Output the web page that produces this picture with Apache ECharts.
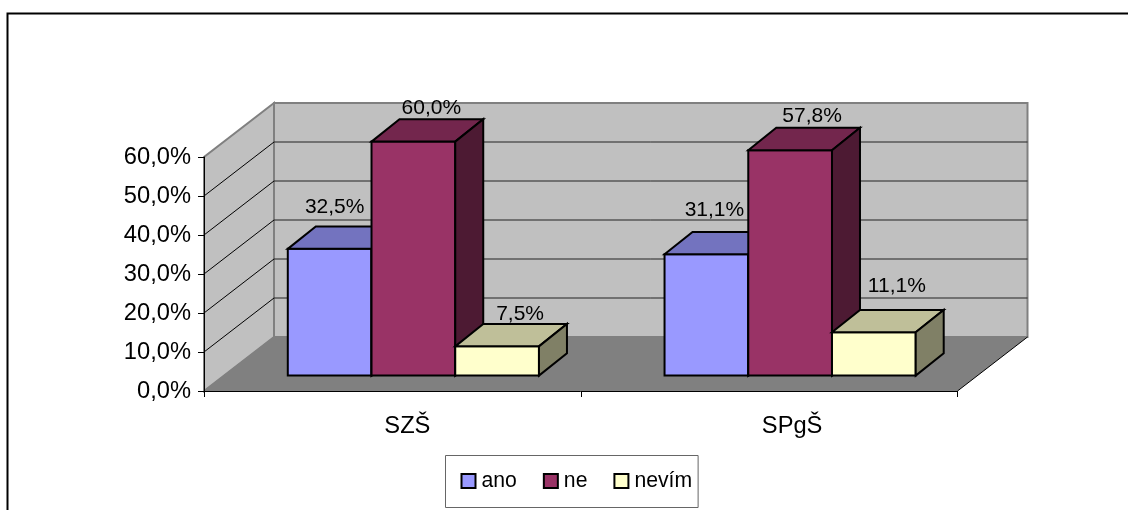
<!DOCTYPE html>
<html><head><meta charset="utf-8">
<style>html,body{margin:0;padding:0;background:#fff}#c{width:1128px;height:510px}</style>
<script src="https://cdn.jsdelivr.net/npm/echarts@6/dist/echarts.min.js"></script>
</head><body><div id="c"></div>
<script>
var categories = ['SZŠ', 'SPgŠ'];
var ano = [32.5, 31.1];
var ne = [60.0, 57.8];
var nevim = [7.5, 11.1];
var yTicks = [0, 10, 20, 30, 40, 50, 60];

var FONT = '"Liberation Sans", Arial, sans-serif';
var AXIS_FS = 23.7, LABEL_FS = 21, LEGEND_FS = 21.2;
var DX = 70, DY = 54;
var FRONT_X = 0.30, FRONT_Y = 0.285, BACK = 0.70;
var seriesStyle = [
  {name:'ano', data:ano, front:'#9999ff', top:'#7373bf', side:'#4d4d80', slot:0, nudge:[[5,-41.5],[8,-44.5]]},
  {name:'ne', data:ne, front:'#993366', top:'#73264d', side:'#4d1a33', slot:1, nudge:[[18,-33.5],[22,-34]]},
  {name:'nevím', data:nevim, front:'#ffffcc', top:'#bfbf99', side:'#808066', slot:2, nudge:[[23,-32],[23,-46]]}
];
function poly(pts, fill, lw){
  return {type:'polygon', shape:{points:pts}, style:{fill:fill, stroke:'#000', lineWidth:lw===undefined?2:lw, lineJoin:'miter'}};
}
function line(a,b,col,w){
  return {type:'line', shape:{x1:a[0],y1:a[1],x2:b[0],y2:b[1]}, style:{stroke:col,lineWidth:w}};
}
function renderWalls(params, api){
  var band = api.size([1,0])[0];
  var first = api.coord([0,0]);
  var x0 = first[0]-band/2, x1 = x0+band*categories.length, y0 = first[1];
  var yt = api.coord([0,60])[1];
  var ch = [];
  ch.push({type:'polygon', shape:{points:[[x0,y0],[x0+DX,y0-DY],[x1+DX,y0-DY],[x1,y0]]}, style:{fill:'#808080'}});
  ch.push({type:'polygon', shape:{points:[[x0,y0],[x0,yt],[x0+DX,yt-DY],[x0+DX,y0-DY]]}, style:{fill:'#c0c0c0',stroke:'#808080',lineWidth:2}});
  ch.push({type:'polygon', shape:{points:[[x0+DX,y0-DY],[x0+DX,yt-DY],[x1+DX,yt-DY],[x1+DX,y0-DY]]}, style:{fill:'#c0c0c0',stroke:'#808080',lineWidth:2}});
  yTicks.forEach(function(t){
    if(t===0||t===60) return;
    var y = api.coord([0,t])[1];
    ch.push(line([x0,y],[x0+DX,y-DY],'#000',1));
    ch.push(line([x0+DX,y-DY],[x1+DX,y-DY],'#222',1));
  });
  ch.push(line([x0,y0],[x0+DX,y0-DY],'#808080',1));
  ch.push(line([x1,y0],[x1+DX,y0-DY],'#000',1));
  return {type:'group', children:ch};
}
function makeBar(s){
  return function(params, api){
    var c = api.value(0), v = api.value(1);
    var band = api.size([1,0])[0];
    var w = band/4.5;
    var top = api.coord([c,v]), base = api.coord([c,0]);
    var xl = top[0]-1.5*w+s.slot*w+DX*FRONT_X, xr = xl+w;
    var yt = top[1]-DY*FRONT_Y, yb = base[1]-DY*FRONT_Y;
    var dx = DX*(BACK-FRONT_X), dy = DY*(BACK-FRONT_Y);
    var n = s.nudge[c];
    return {type:'group', children:[
      poly([[xl,yt],[xr,yt],[xr,yb],[xl,yb]], s.front),
      poly([[xl,yt],[xl+dx,yt-dy],[xr+dx,yt-dy],[xr,yt]], s.top),
      poly([[xr,yt],[xr+dx,yt-dy],[xr+dx,yb-dy],[xr,yb]], s.side),
      {type:'text', z2:50, style:{text:v.toFixed(1).replace('.',',')+'%', x:(xl+xr)/2+n[0], y:yt+n[1],
        align:'center', verticalAlign:'middle', fill:'#000', font:LABEL_FS+'px '+FONT}}
    ]};
  };
}
var series = [{type:'custom', name:'walls', silent:true, z:1, renderItem:renderWalls, data:[[0,0]], clip:false}];
seriesStyle.forEach(function(s,i){
  series.push({type:'custom', name:s.name, z:2+i, clip:false, renderItem:makeBar(s),
    itemStyle:{color:s.front,borderColor:'#000',borderWidth:2},
    encode:{x:0,y:1},
    data:s.data.map(function(v,k){return [k,v];})});
});
var chart = echarts.init(document.getElementById('c'), null, {renderer:'canvas'});
chart.setOption({
  animation:false,
  backgroundColor:'#fff',
  grid:{left:204,right:170.5,top:157,bottom:119},
  xAxis:{type:'category',data:categories,z:5,
    axisLine:{lineStyle:{color:'#000',width:1}},
    axisTick:{show:true,length:6,alignWithLabel:false,lineStyle:{color:'#000'}},
    axisLabel:{color:'#000',fontFamily:FONT,fontSize:AXIS_FS,margin:23,
      formatter:function(v,i){return '{c'+i+'|'+v+'}';},
      rich:{c0:{fontSize:AXIS_FS,padding:[0,0,0,30]},c1:{fontSize:AXIS_FS,padding:[0,0,0,46]}}}},
  yAxis:{type:'value',min:0,max:60,interval:10,z:5,splitLine:{show:false},
    axisLine:{show:true,lineStyle:{color:'#000',width:1}},
    axisTick:{show:true,length:6,lineStyle:{color:'#000'}},
    axisLabel:{color:'#000',fontFamily:FONT,fontSize:AXIS_FS,margin:13,padding:[3,0,0,0],
      formatter:function(v){return v.toFixed(1).replace('.',',')+'%';}}},
  legend:{left:445.5,top:455.5,orient:'horizontal',show:true,
    backgroundColor:'#fff',borderColor:'#666',borderWidth:1,borderRadius:0,
    padding:[15,6,16,15],itemGap:26,itemWidth:14,itemHeight:14,
    textStyle:{color:'#000',fontFamily:FONT,fontSize:LEGEND_FS,padding:[2,0,0,1]},
    data:seriesStyle.map(function(s){return {name:s.name,icon:'rect',itemStyle:{color:s.front,borderColor:'#000',borderWidth:2}};})},
  graphic:[{type:'polyline',silent:true,shape:{points:[[7.5,512],[7.5,13.5],[1130,13.5]]},style:{fill:null,stroke:'#000',lineWidth:2}}],
  series:series
});
</script></body></html>
